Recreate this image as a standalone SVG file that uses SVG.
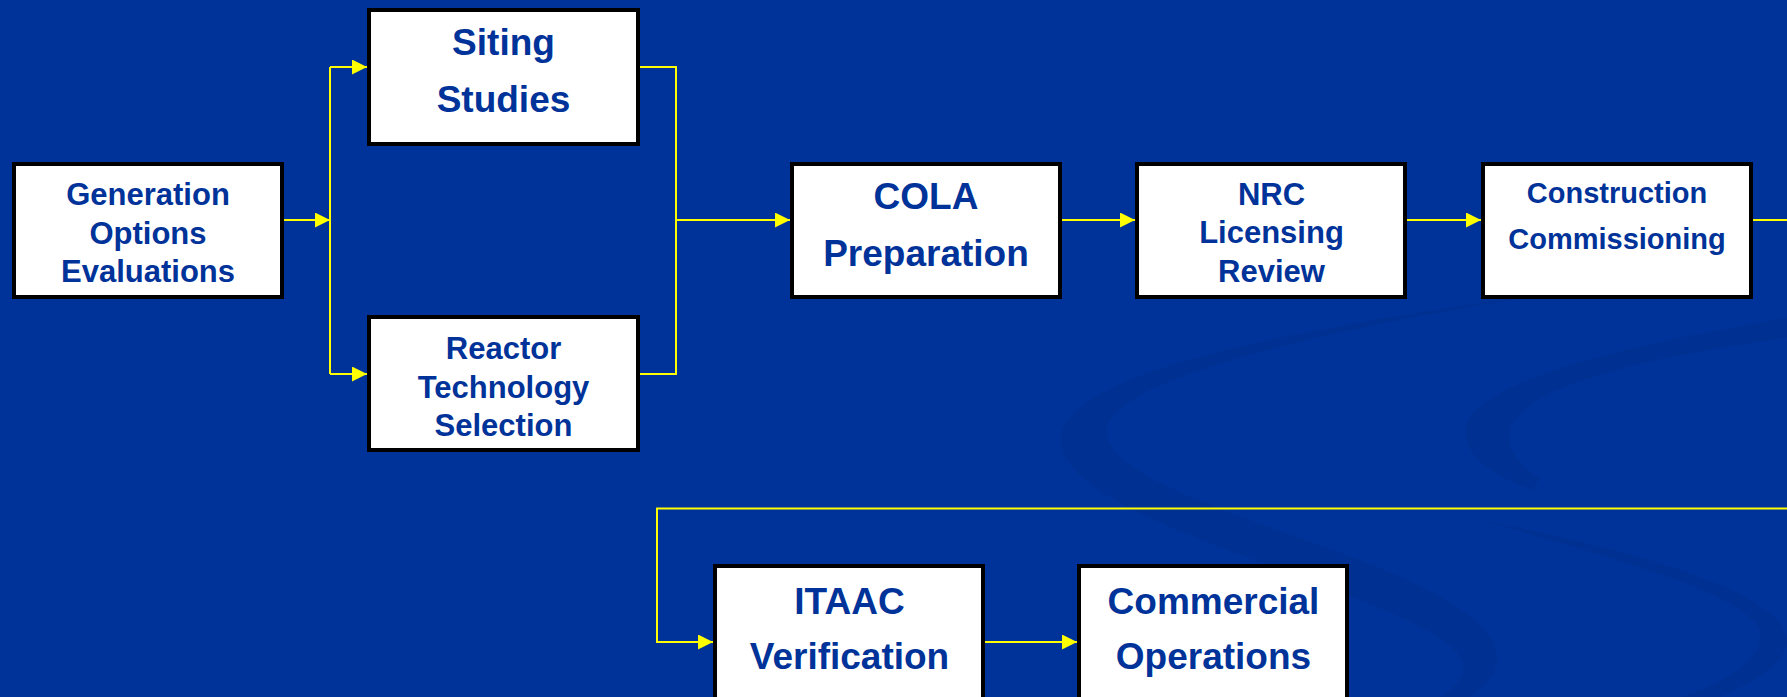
<svg xmlns="http://www.w3.org/2000/svg" width="1787" height="697" viewBox="0 0 1787 697">
  <style>
    .box { fill: #ffffff; stroke: #000000; stroke-width: 4; }
    .lbl { font-family: "Liberation Sans", Arial, sans-serif; font-weight: bold; fill: #003399; text-anchor: middle; }
    .s31 { font-size: 31px; }
    .s29 { font-size: 29px; }
    .s37 { font-size: 37px; }
    .flow { fill: none; stroke: #ffff00; stroke-width: 2; }
    .swirl { fill: #002f8c; opacity: 0.55; }
  </style>
  <defs>
    <marker id="arrow" markerUnits="userSpaceOnUse" markerWidth="16" markerHeight="16" refX="15" refY="7.5" orient="auto">
      <path d="M0,0 L15,7.5 L0,15 Z" fill="#ffff00"/>
    </marker>
  </defs>

  <!-- backdrop with faint ribbon swirls -->
  <rect x="0" y="0" width="1787" height="697" fill="#003399"/>
  <g id="backdrop">
    <path class="swirl" d="M1620,283 C1350,320 1090,360 1062,430 C1045,490 1190,535 1320,585 C1440,630 1500,660 1440,697 L1470,697 C1530,655 1490,610 1360,560 C1210,505 1095,470 1108,425 C1128,370 1380,318 1620,283 Z"/>
    <path class="swirl" d="M1787,318 C1620,345 1490,380 1468,420 C1455,450 1490,475 1532,490 L1540,478 C1512,462 1502,440 1515,420 C1545,380 1660,355 1787,338 Z"/>
    <path class="swirl" d="M1480,520 C1620,560 1770,600 1760,640 C1755,665 1720,685 1680,697 L1720,697 C1760,680 1787,660 1787,640 C1787,595 1640,550 1480,520 Z"/>
  </g>

  <!-- connectors -->
  <g id="connectors">
    <path class="flow" d="M284,220 H330" marker-end="url(#arrow)"/>
    <path class="flow" d="M330,67 V374"/>
    <path class="flow" d="M330,67 H367" marker-end="url(#arrow)"/>
    <path class="flow" d="M330,374 H367" marker-end="url(#arrow)"/>
    <path class="flow" d="M640,67 H676 V374 H640"/>
    <path class="flow" d="M676,220 H790" marker-end="url(#arrow)"/>
    <path class="flow" d="M1061,220 H1135" marker-end="url(#arrow)"/>
    <path class="flow" d="M1407,220 H1481" marker-end="url(#arrow)"/>
    <path class="flow" d="M1753,220 H1787"/>
    <path class="flow" d="M1787,508.5 H657 V642 H713" marker-end="url(#arrow)"/>
    <path class="flow" d="M985,642 H1077" marker-end="url(#arrow)"/>
  </g>

  <g id="generation">
    <rect class="box" x="14" y="164" width="268" height="133"/>
    <text class="lbl s31" x="148" y="205">Generation</text>
    <text class="lbl s31" x="148" y="244">Options</text>
    <text class="lbl s31" x="148" y="282">Evaluations</text>
  </g>

  <g id="siting">
    <rect class="box" x="369" y="10" width="269" height="134"/>
    <text class="lbl s37" x="503.5" y="55">Siting</text>
    <text class="lbl s37" x="503.5" y="112">Studies</text>
  </g>

  <g id="reactor">
    <rect class="box" x="369" y="317" width="269" height="133"/>
    <text class="lbl s31" x="503.5" y="359">Reactor</text>
    <text class="lbl s31" x="503.5" y="398">Technology</text>
    <text class="lbl s31" x="503.5" y="436">Selection</text>
  </g>

  <g id="cola">
    <rect class="box" x="792" y="164" width="268" height="133"/>
    <text class="lbl s37" x="926" y="209">COLA</text>
    <text class="lbl s37" x="926" y="266">Preparation</text>
  </g>

  <g id="nrc">
    <rect class="box" x="1137" y="164" width="268" height="133"/>
    <text class="lbl s31" x="1271.5" y="205">NRC</text>
    <text class="lbl s31" x="1271.5" y="243">Licensing</text>
    <text class="lbl s31" x="1271.5" y="282">Review</text>
  </g>

  <g id="construction">
    <rect class="box" x="1483" y="164" width="268" height="133"/>
    <text class="lbl s29" x="1617" y="203">Construction</text>
    <text class="lbl s29" x="1617" y="249">Commissioning</text>
  </g>

  <g id="itaac">
    <rect class="box" x="715" y="566" width="268" height="160"/>
    <text class="lbl s37" x="849.5" y="614">ITAAC</text>
    <text class="lbl s37" x="849.5" y="669">Verification</text>
  </g>

  <g id="commercial">
    <rect class="box" x="1079" y="566" width="268" height="160"/>
    <text class="lbl s37" x="1213.5" y="614">Commercial</text>
    <text class="lbl s37" x="1213.5" y="669">Operations</text>
  </g>
</svg>
